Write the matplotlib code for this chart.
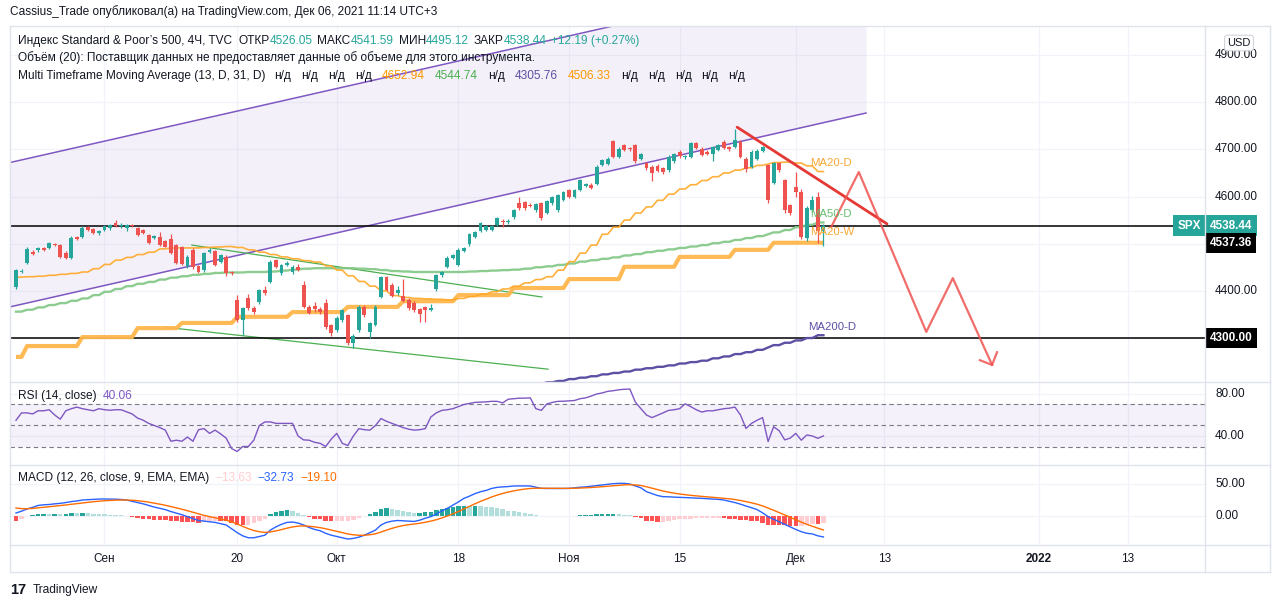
import numpy as np
import matplotlib
matplotlib.use("Agg")
import matplotlib.pyplot as plt
from matplotlib import font_manager, transforms
from matplotlib.lines import Line2D

# fonts: narrow sans for the legend texts, if it is there
names = {f.name for f in font_manager.fontManager.ttflist}
NARROW = "Liberation Sans Narrow" if "Liberation Sans Narrow" in names else "Liberation Sans"
TXT = 10 if NARROW == "Liberation Sans Narrow" else 8.6
plt.rcParams["font.family"] = [NARROW, "DejaVu Sans"]
AXF = ["Liberation Sans", "DejaVu Sans"]

# ---------------- data: SPX 4H bars, Aug 20 - Dec 3 2021 ----------------
opens = [4408, 4440, 4459, 4483, 4486, 4491, 4491, 4500, 4497, 4480,
         4470, 4514, 4514, 4535, 4531, 4522, 4529, 4533, 4543, 4537,
         4533, 4540, 4533, 4530, 4519, 4512, 4514, 4505, 4509, 4497,
         4493, 4452, 4487, 4452, 4444, 4482, 4484, 4462, 4472, 4440,
         4380, 4338, 4385, 4363, 4377, 4402, 4419, 4465, 4438, 4455,
         4440, 4451, 4412, 4366, 4368, 4362, 4374, 4327, 4317, 4338,
         4349, 4289, 4317, 4366, 4313, 4328, 4387, 4429, 4412, 4395,
         4389, 4381, 4374, 4361, 4365, 4360, 4404, 4433, 4451, 4470,
         4455, 4485, 4499, 4515, 4527, 4530, 4530, 4540, 4549, 4545,
         4556, 4586, 4588, 4583, 4571, 4586, 4565, 4586, 4571, 4593,
         4614, 4599, 4614, 4623, 4625, 4627, 4667, 4670, 4718, 4684,
         4709, 4702, 4709, 4680, 4671, 4663, 4665, 4660, 4656, 4675,
         4695, 4683, 4684, 4713, 4701, 4695, 4690, 4699, 4716, 4705,
         4705, 4716, 4680, 4663, 4680, 4697, 4667, 4629, 4671, 4635,
         4582, 4620, 4610, 4512, 4571, 4600, 4526.05]
highs = [4447, 4446, 4492, 4487, 4494, 4493, 4503, 4502, 4500, 4484,
         4516, 4517, 4537, 4537, 4534, 4529, 4540, 4542, 4550, 4543,
         4542, 4542, 4536, 4532, 4521, 4519, 4524, 4508, 4520, 4499,
         4496, 4475, 4490, 4455, 4483, 4490, 4487, 4479, 4475, 4442,
         4392, 4366, 4394, 4368, 4405, 4410, 4465, 4468, 4458, 4463,
         4454, 4456, 4420, 4370, 4376, 4366, 4382, 4330, 4346, 4362,
         4352, 4308, 4369, 4370, 4335, 4369, 4432, 4432, 4416, 4410,
         4425, 4384, 4378, 4364, 4368, 4372, 4436, 4443, 4473, 4479,
         4490, 4493, 4523, 4527, 4547, 4540, 4540, 4557, 4552, 4552,
         4574, 4598, 4591, 4586, 4587, 4589, 4593, 4602, 4606, 4612,
         4617, 4617, 4638, 4629, 4628, 4666, 4680, 4683, 4720, 4704,
         4712, 4705, 4712, 4693, 4674, 4666, 4668, 4663, 4687, 4693,
         4698, 4689, 4716, 4716, 4704, 4698, 4708, 4712, 4719, 4708,
         4744, 4719, 4683, 4698, 4700, 4708, 4670, 4674, 4673, 4638,
         4585, 4652, 4615, 4579, 4602, 4610, 4541.59]
lows = [4405, 4437, 4457, 4476, 4483, 4485, 4488, 4495, 4470, 4468,
        4468, 4508, 4512, 4527, 4520, 4519, 4526, 4530, 4535, 4534,
        4526, 4535, 4517, 4520, 4500, 4509, 4495, 4492, 4478, 4457,
        4455, 4448, 4447, 4437, 4441, 4480, 4452, 4459, 4432, 4434,
        4335, 4306, 4360, 4352, 4372, 4392, 4416, 4448, 4434, 4452,
        4436, 4442, 4363, 4350, 4356, 4352, 4320, 4305, 4313, 4335,
        4285, 4278, 4312, 4345, 4300, 4325, 4384, 4399, 4386, 4392,
        4376, 4360, 4356, 4334, 4334, 4357, 4400, 4430, 4448, 4467,
        4452, 4482, 4496, 4512, 4524, 4527, 4527, 4537, 4535, 4542,
        4553, 4572, 4572, 4577, 4568, 4550, 4562, 4583, 4568, 4590,
        4596, 4596, 4611, 4620, 4615, 4624, 4664, 4667, 4681, 4681,
        4696, 4697, 4672, 4677, 4657, 4633, 4651, 4648, 4653, 4672,
        4682, 4680, 4681, 4700, 4685, 4687, 4675, 4696, 4700, 4697,
        4702, 4681, 4652, 4660, 4677, 4694, 4586, 4626, 4652, 4565,
        4560, 4599, 4510, 4505, 4568, 4502, 4495.12]
closes = [4444, 4443, 4489, 4478, 4491, 4487, 4501, 4497, 4472, 4470,
          4512, 4510, 4533, 4528, 4522, 4526, 4537, 4539, 4537, 4540,
          4540, 4537, 4519, 4522, 4502, 4517, 4497, 4494, 4480, 4459,
          4457, 4472, 4450, 4440, 4480, 4487, 4455, 4476, 4437, 4437,
          4338, 4363, 4363, 4356, 4402, 4395, 4462, 4451, 4455, 4460,
          4450, 4445, 4366, 4353, 4362, 4356, 4323, 4310, 4342, 4359,
          4289, 4305, 4366, 4349, 4332, 4366, 4429, 4402, 4389, 4402,
          4379, 4363, 4360, 4351, 4360, 4364, 4433, 4440, 4470, 4477,
          4487, 4490, 4520, 4524, 4544, 4537, 4537, 4554, 4546, 4549,
          4571, 4575, 4575, 4580, 4584, 4554, 4590, 4599, 4603, 4610,
          4599, 4614, 4635, 4626, 4618, 4663, 4677, 4680, 4684, 4701,
          4699, 4700, 4675, 4690, 4660, 4650, 4654, 4651, 4684, 4690,
          4685, 4686, 4713, 4703, 4688, 4690, 4705, 4709, 4703, 4700,
          4720, 4684, 4658, 4695, 4697, 4705, 4593, 4671, 4656, 4571,
          4565, 4610, 4514, 4576, 4593, 4526, 4538.44]

# bars per trading day (Nov 26 was a half day) and per week
day_len = [2] * 68 + [1] + [2] * 5
week_len = [2, 10, 10, 8, 10, 10, 10, 10, 10, 10, 10, 10, 10, 10, 7, 10]

ma20d = [4429, 4430, 4431, 4433, 4435, 4437, 4440, 4447, 4456, 4465,
         4471, 4477, 4482, 4489, 4491, 4491, 4491, 4492, 4493, 4494,
         4492, 4487, 4482, 4477, 4472, 4468, 4464, 4461, 4453, 4444,
         4432, 4420, 4410, 4400, 4390, 4386, 4384, 4383, 4382, 4381,
         4384, 4388, 4393, 4398, 4404, 4410, 4417, 4424, 4430, 4444,
         4462, 4480, 4497, 4520, 4535, 4550, 4565, 4578, 4592, 4605,
         4616, 4625, 4634, 4642, 4650, 4656, 4661, 4666, 4669, 4672,
         4673, 4671, 4665, 4653]
ma50d = [4356, 4360, 4365, 4370, 4374, 4379, 4384, 4391, 4398, 4404,
         4410, 4415, 4419, 4424, 4428, 4431, 4434, 4436, 4438, 4439,
         4439, 4440, 4440, 4441, 4443, 4445, 4447, 4448, 4448, 4448,
         4448, 4447, 4446, 4444, 4442, 4441, 4440, 4440, 4440, 4440,
         4440, 4441, 4442, 4443, 4444, 4445, 4447, 4450, 4452, 4455,
         4458, 4462, 4465, 4468, 4471, 4475, 4478, 4482, 4485, 4488,
         4491, 4494, 4497, 4501, 4504, 4508, 4512, 4516, 4520, 4524,
         4529, 4535, 4540, 4545]
ma200d_first_day = 46
ma200d = [4200, 4203, 4206, 4209, 4213, 4216, 4219, 4223, 4226, 4229,
          4233, 4236, 4239, 4242, 4246, 4249, 4252, 4257, 4261, 4266,
          4270, 4275, 4280, 4285, 4290, 4295, 4300, 4306]
ma20w = [4260, 4283, 4302, 4321, 4332, 4345, 4355, 4366, 4378, 4391,
         4406, 4425, 4451, 4472, 4487, 4502]

rsi = [55, 62, 62, 61, 64, 64, 65, 60, 56, 64,
       66, 67.5, 66, 65, 64, 66, 65, 64.5, 65, 65,
       63, 61, 57, 55, 52, 50, 48, 45.6, 35, 36,
       35, 39, 35, 46, 47, 42.5, 45.6, 42, 38, 28,
       25.3, 30, 30, 36, 50, 53.4, 53.4, 52, 52, 52,
       52, 40, 36.3, 36, 34, 33, 30, 37, 42.5, 33,
       31, 40, 47, 46, 45.6, 50, 56.6, 54, 52, 50,
       48, 46.5, 45.6, 46, 47, 58, 62, 64.4, 65, 66,
       68, 70, 71, 72, 72.2, 72.5, 73, 73, 71.5, 75,
       75.5, 76, 76, 76.3, 66, 64.4, 70.6, 72, 73, 73.1,
       73.5, 73.8, 75.5, 76.3, 78, 80, 81, 82.5, 83.1, 84,
       84.5, 84.7, 72.2, 66, 60, 57.5, 59.7, 62, 64.4, 65,
       66, 70.6, 68, 65, 62.8, 64, 64, 65, 66, 66.5,
       67.5, 60, 47.2, 52, 55, 57.5, 34.7, 48.8, 45, 36.3,
       38, 42.5, 36, 41, 40, 37.8, 40.06]
macd = [4.7, 7.5, 11, 13.5, 16.5, 17.5, 18, 19, 19.8, 21,
        22.5, 23.5, 25, 25.5, 26, 26.5, 26.6, 26.5, 26.3, 25.8,
        25, 23, 21, 19, 16.5, 14, 12, 10, 7, 4.5,
        2, -1, -4, -7, -8, -9, -10, -12, -14, -20,
        -26, -31, -34, -34, -32, -30, -22, -17, -13, -10,
        -9.4, -11, -14, -18, -21, -23, -27, -30, -32, -34,
        -36, -35, -33, -30, -26, -22, -14, -10, -8, -7,
        -7.5, -8, -8.5, -6.5, -3.5, -1, 3, 8, 12, 17,
        22, 27.6, 31, 35, 38, 40, 43, 44.8, 45.5, 46,
        46.9, 47, 47, 46.9, 45, 43.2, 43, 43, 43, 43,
        43.2, 44, 45, 45.5, 46.5, 47.5, 48.5, 49.5, 50.5, 51,
        51, 50, 47, 44, 38, 35, 32, 30.2, 30, 29.5,
        29.2, 28.8, 28.4, 28, 27.6, 27, 26.5, 26, 25, 23,
        21, 18.5, 15.6, 13, 10, 5, -1, -5, -9, -13,
        -17, -21, -24.5, -27, -28, -31, -32.7]
signal_seed = 12.5

# user drawings (bar index, price)
channel_x = [-1.1, 153.7]
channel_lo = [4366, 4777]
channel_hi = [4672, 5083]
green_line1 = ([31.8, 95.1], [4497, 4387])
green_line2 = ([26.9, 96.2], [4323, 4234])
red_trend = ([130.4, 157.5], [4747, 4542])
red_path = ([147.4, 152.4, 164.6, 169.4, 176.5], [4535, 4652, 4313, 4427, 4243])
red_arrow = ([174.3, 176.5, 177.4], [4253, 4243, 4270])
hline_a, hline_b = 4537.36, 4300.00

tick_bars = [16, 40, 58, 80, 100, 120, 141, 157, 185, 201]
tick_labels = ["Сен", "20", "Окт", "18", "Ноя", "15", "Дек", "13", "2022", "13"]

# ---------------- derived series ----------------
o, h, l, c = map(np.array, (opens, highs, lows, closes))
n = len(c)
bars = np.arange(n)
ma20d_b = np.repeat(ma20d, day_len)
ma50d_b = np.repeat(ma50d, day_len)
ma200d_b = np.repeat(ma200d, day_len[ma200d_first_day:])
ma200d_x = bars[sum(day_len[:ma200d_first_day]):]
ma20w_b = np.repeat(ma20w, week_len)
macd = np.array(macd)
sig = np.empty(n)
sig[0] = signal_seed
for i in range(1, n):
    sig[i] = sig[i - 1] + 0.2 * (macd[i] - sig[i - 1])
hist = macd - sig
prev = np.r_[hist[0], hist[:-1]]
hcol = np.where(hist >= 0, np.where(hist >= prev, "#26a69a", "#b2dfdb"),
                np.where(hist > prev, "#ffcdd2", "#ff5252"))

# ---------------- figure ----------------
W, H = 1280, 608
fig = plt.figure(figsize=(W / 100, H / 100), dpi=100)
fig.patch.set_facecolor("white")
DARK = "#131722"
GRID = "#f0f3fa"
UP, DN = "#26a69a", "#ef5350"


def add_ax(x0, y0, x1, y1):
    return fig.add_axes([x0 / W, 1 - y1 / H, (x1 - x0) / W, (y1 - y0) / H])


ax = add_ax(10, 26, 1205, 382)
ax_rsi = add_ax(10, 382, 1205, 465)
ax_macd = add_ax(10, 465, 1205, 545)
XL = (-1.085, 215.0)
for a in (ax, ax_rsi, ax_macd):
    a.set_xlim(*XL)
    a.set_yticks([])
    a.set_xticks([])
    for s in a.spines.values():
        s.set_visible(False)
    for t in tick_bars:
        a.axvline(t, color=GRID, lw=0.9, zorder=0)
ax.set_ylim(4206.8, 4961.5)
ax_rsi.set_ylim(12.4, 91.4)
ax_macd.set_ylim(-45.3, 79.7)

# frame lines
def fline(x0, y0, x1, y1, col="#e0e3eb", lw=1.0):
    fig.add_artist(Line2D([x0 / W, x1 / W], [1 - y0 / H, 1 - y1 / H], color=col, lw=lw))

for y in (26, 382, 465, 545, 572):
    fline(10, y, 1270, y)
for x in (10, 1205, 1270):
    fline(x, 26, x, 572)

# ---------------- main pane ----------------
for p in range(4300, 5000, 100):
    ax.axhline(p, color=GRID, lw=0.9, zorder=0)
ax.fill_between(channel_x, channel_lo, channel_hi, color="#9575cd", alpha=0.10, lw=0, zorder=1)
ax.plot(channel_x, channel_lo, color="#7e57c2", lw=1.1, zorder=2)
ax.plot(channel_x, channel_hi, color="#7e57c2", lw=1.1, zorder=2)
ax.plot(*green_line1, color="#4caf50", lw=0.9, zorder=2)
ax.plot(*green_line2, color="#4caf50", lw=0.9, zorder=2)
ax.axhline(hline_b, color="black", lw=1.1, zorder=2)
ax.plot([XL[0], 209.6], [hline_a, hline_a], color="black", lw=1.1, zorder=2)

ax.plot(bars, ma20w_b, color="#ffb74d", lw=3.0, alpha=0.95, zorder=3, solid_capstyle="butt")
ax.plot(bars, ma50d_b, color="#81c784", lw=1.7, alpha=0.9, zorder=3)
ax.plot(bars, ma20d_b, color="#ffa726", lw=1.2, alpha=0.9, zorder=3)
ax.plot(ma200d_x, ma200d_b, color="#5c50a4", lw=1.7, zorder=3)

col = np.where(c >= o, UP, DN)
ax.vlines(bars, l, h, colors=col, lw=0.9, zorder=4)
ax.bar(bars, np.maximum(np.abs(c - o), 0.8), bottom=np.minimum(o, c), width=0.7,
       color=col, zorder=5)

ax.plot(*red_trend, color="#e53935", lw=2.0, zorder=6, solid_capstyle="round")
ax.plot(*red_path, color="#ef5350", lw=1.6, alpha=0.85, zorder=6)
ax.plot(*red_arrow, color="#ef5350", lw=1.6, alpha=0.85, zorder=6)

lab = dict(fontsize=TXT * 0.95, va="center", ha="left", zorder=7)
ax.text(143.6, 4671, "MA20-D", color="#f7a733", **lab)
ax.text(143.6, 4563, "MA50-D", color="#66bb6a", **lab)
ax.text(143.6, 4525, "MA20-W", color="#f7a733", **lab)
ax.text(143.2, 4323, "MA200-D", color="#5c50a4", **lab)

# ---------------- RSI pane ----------------
for v in (80, 40):
    ax_rsi.axhline(v, color=GRID, lw=0.9, zorder=0)
ax_rsi.axhspan(30, 70, color="#7e57c2", alpha=0.08, lw=0, zorder=1)
for v in (70, 50, 30):
    ax_rsi.axhline(v, color="#787b86", lw=0.8, ls=(0, (4, 3)), zorder=2)
ax_rsi.plot(bars, rsi, color="#7e57c2", lw=1.0, zorder=3)

# ---------------- MACD pane ----------------
for v in (50, 0):
    ax_macd.axhline(v, color=GRID, lw=0.9, zorder=0)
ax_macd.bar(bars, hist, width=0.8, color=hcol, zorder=2)
ax_macd.plot(bars, macd, color="#2962ff", lw=1.0, zorder=3)
ax_macd.plot(bars, sig, color="#ff6d00", lw=1.0, zorder=3)

ax_macd.set_xticks(tick_bars)
ax_macd.set_xticklabels(tick_labels, fontsize=8.5, color=DARK, family=AXF)
ax_macd.tick_params(axis="x", length=0, pad=6)
ax_macd.get_xticklabels()[8].set_fontweight("bold")

# ---------------- price axis ----------------
def blend(a):
    return transforms.blended_transform_factory(a.transAxes, a.transData)

def xa(px):
    return (px - 10) / 1195.0

for a, vals in ((ax, [4400, 4600, 4700, 4800, 4900]), (ax_rsi, [80, 40]), (ax_macd, [50, 0])):
    for v in vals:
        a.text(xa(1215), v, f"{v:.2f}", transform=blend(a), ha="left", va="center",
               fontsize=8.5, color=DARK, family=AXF, clip_on=False)

def box(a, x_px, v, text, fc, dy=0, ha="left"):
    tr = transforms.offset_copy(blend(a), fig=fig, x=0, y=dy, units="dots")
    a.text(xa(x_px), v, text, transform=tr, ha=ha, va="center", fontsize=8.5,
           color="white", fontweight="bold", family=AXF, clip_on=False, zorder=10,
           bbox=dict(boxstyle="square,pad=0.35", fc=fc, ec="none"))

box(ax, 1210, closes[-1], f"{closes[-1]:.2f}", UP)
box(ax, 1201, closes[-1], "SPX", UP, ha="right")
box(ax, 1210, hline_a, f"{hline_a:.2f}", "black", dy=-17)
box(ax, 1210, hline_b, f"{hline_b:.2f}", "black")
fig.text(1239 / W, 1 - 43 / H, "USD", ha="center", va="center", fontsize=8, color=DARK,
         family=AXF, bbox=dict(boxstyle="round,pad=0.25", fc="white", ec="#d1d4dc", lw=0.8))

# ---------------- texts ----------------
renderer = fig.canvas.get_renderer()

def chain(x_px, y_px, pieces, size=TXT):
    x = x_px
    for s, colr, gap in pieces:
        t = fig.text(x / W, 1 - y_px / H, s, color=colr, fontsize=size, ha="left", va="center")
        x += t.get_window_extent(renderer).width + gap

G = "#26a69a"
fig.text(10 / W, 1 - 12 / H, "Cassius_Trade опубликовал(а) на TradingView.com, Дек 06, 2021 11:14 UTC+3",
         color=DARK, fontsize=TXT, ha="left", va="center")
chain(18, 41, [("Индекс Standard & Poor’s 500, 4Ч, TVC", DARK, 6),
               ("ОТКР", DARK, 0), ("4526.05", G, 5),
               ("МАКС", DARK, 0), ("4541.59", G, 5),
               ("МИН", DARK, 0), ("4495.12", G, 5),
               ("ЗАКР", DARK, 0), ("4538.44", G, 4),
               ("+12.19 (+0.27%)", G, 0)])
chain(18, 58, [("Объём (20): Поставщик данных не предоставляет данные об объеме для этого инструмента.", DARK, 0)])
nd = ("н/д", DARK, 10)
chain(18, 76, [("Multi Timeframe Moving Average (13, D, 31, D)", DARK, 9), nd, nd, nd, nd,
               ("4652.94", "#ff9800", 10), ("4544.74", "#4caf50", 10), nd,
               ("4305.76", "#5c50a4", 10), ("4506.33", "#ff9800", 10), nd, nd, nd, nd, nd])
chain(18, 396, [("RSI (14, close)", DARK, 6), ("40.06", "#7e57c2", 0)])
chain(18, 478, [("MACD (12, 26, close, 9, EMA, EMA)", DARK, 6), ("−13.63", "#ffcdd2", 6),
                ("−32.73", "#2962ff", 6), ("−19.10", "#ff6d00", 0)])

fig.text(10 / W, 1 - 590 / H, "17", color=DARK, fontsize=10.5, fontweight="heavy",
         family=AXF, ha="left", va="center")
fig.text(33 / W, 1 - 590 / H, "TradingView", color=DARK, fontsize=TXT, ha="left", va="center")

fig.savefig("out.png", dpi=100)
